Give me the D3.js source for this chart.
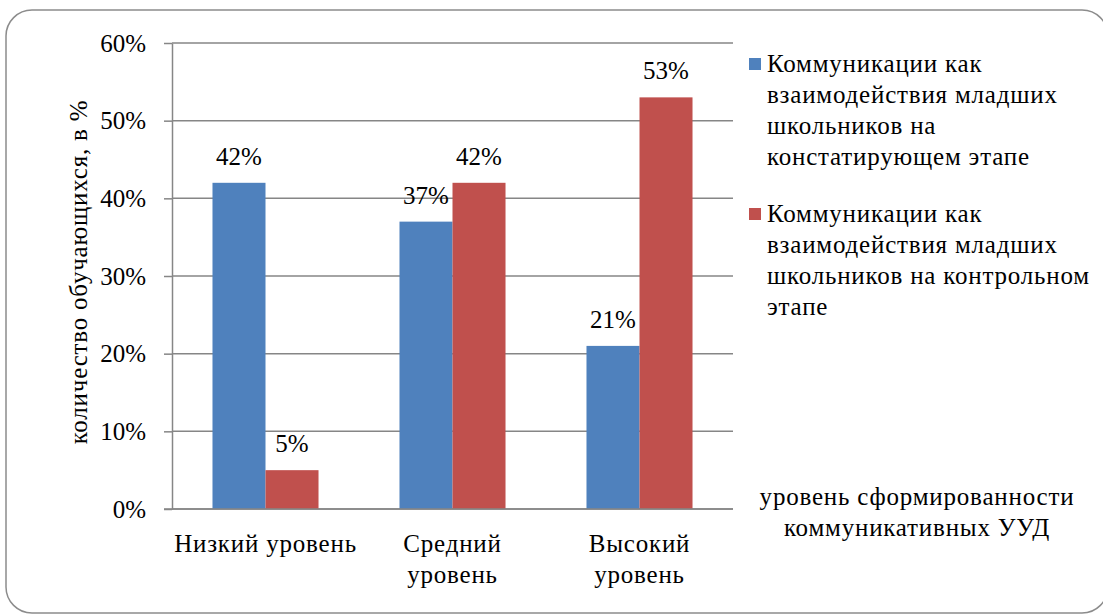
<!DOCTYPE html>
<html>
<head>
	<meta charset="UTF-8">
	<title>chart</title>
</head>
<body style="margin:0">
	<script src="https://d3js.org/d3.v7.min.js"></script>
	<script>
		var categories = ['Низкий уровень', 'Средний уровень', 'Высокий уровень'];
		var categoryLines = [['Низкий уровень'], ['Средний', 'уровень'], ['Высокий', 'уровень']];
		var seriesNames = [
			['Коммуникации как', 'взаимодействия младших', 'школьников на', 'констатирующем этапе'],
			['Коммуникации как', 'взаимодействия младших', 'школьников на контрольном', 'этапе']
		];
		var seriesA = [42, 37, 21];  // констатирующий этап
		var seriesB = [5, 42, 53];   // контрольный этап
		var yTicks = [0, 10, 20, 30, 40, 50, 60];
		var colors = ['#4F81BD', '#C0504D'];
		var yTitle = 'количество обучающихся, в %';
		var xTitle = ['уровень сформированности', 'коммуникативных УУД'];

		var width = 1103, height = 616;
		var plotLeft = 172, plotRight = 733, plotTop = 43, plotBottom = 509;
		var gridColor = '#868686';

		var svg = d3.select('body').append('svg')
			.attr('width', width).attr('height', height)
			.style('font-family', 'Liberation Serif')
			.style('font-size', '25px');

		// рамка
		svg.append('rect')
			.attr('x', 6).attr('y', 10)
			.attr('width', 1102).attr('height', 603)
			.attr('rx', 26).attr('ry', 26)
			.attr('fill', 'none').attr('stroke', '#8c8c8c').attr('stroke-width', 1.5);

		var y = d3.scaleLinear().domain([0, 60]).range([plotBottom, plotTop]);
		var x0 = d3.scaleBand().domain(categories).range([plotLeft, plotRight])
			.paddingInner(0.433).paddingOuter(0.2165);
		var x1 = d3.scaleBand().domain([0, 1]).range([0, x0.bandwidth()]);

		// сетка
		svg.append('g').selectAll('line')
			.data(yTicks)
			.enter().append('line')
			.attr('x1', plotLeft).attr('x2', plotRight)
			.attr('y1', function(d){ return y(d); })
			.attr('y2', function(d){ return y(d); })
			.attr('stroke', gridColor).attr('stroke-width', 1.5);

		var yAxis = d3.axisLeft(y).tickValues(yTicks)
			.tickFormat(function(d){ return d + '%'; })
			.tickSizeInner(8).tickSizeOuter(0).tickPadding(18);
		var gy = svg.append('g')
			.attr('transform', 'translate(' + plotLeft + ',0)')
			.call(yAxis);
		gy.attr('font-family', null).attr('font-size', null);
		gy.selectAll('path, line').attr('stroke', gridColor).attr('stroke-width', 1.5);
		gy.selectAll('text').attr('fill', '#000');

		// столбцы
		var groups = svg.append('g').selectAll('g')
			.data(categories)
			.enter().append('g')
			.attr('transform', function(d){ return 'translate(' + x0(d) + ',0)'; });

		groups.selectAll('rect')
			.data(function(d, i){ return [seriesA[i], seriesB[i]]; })
			.enter().append('rect')
			.attr('x', function(d, j){ return x1(j); })
			.attr('y', function(d){ return y(d); })
			.attr('width', x1.bandwidth())
			.attr('height', function(d){ return plotBottom - y(d); })
			.attr('fill', function(d, j){ return colors[j]; });

		groups.selectAll('text.val')
			.data(function(d, i){ return [seriesA[i], seriesB[i]]; })
			.enter().append('text')
			.attr('class', 'val')
			.attr('text-anchor', 'middle')
			.attr('x', function(d, j){ return x1(j) + x1.bandwidth() / 2; })
			.attr('y', function(d){ return y(d) - 18; })
			.text(function(d){ return d + '%'; });

		// ось X
		svg.append('line')
			.attr('x1', plotLeft - 8).attr('x2', plotRight)
			.attr('y1', plotBottom).attr('y2', plotBottom)
			.attr('stroke', gridColor).attr('stroke-width', 1.5);

		svg.append('g').selectAll('text')
			.data(categories)
			.enter().append('text')
			.attr('class', 'cyr')
			.attr('text-anchor', 'middle')
			.attr('y', 552)
			.each(function(d, i){
				var t = d3.select(this);
				categoryLines[i].forEach(function(line, k){
					t.append('tspan')
						.attr('x', x0(d) + x0.bandwidth() / 2)
						.attr('dy', k === 0 ? 0 : 31)
						.text(line);
				});
			});

		// подпись оси Y
		svg.append('text')
			.attr('class', 'cyr')
			.attr('text-anchor', 'middle')
			.attr('transform', 'translate(87,272) rotate(-90)')
			.text(yTitle);

		// подпись оси X
		svg.append('text')
			.attr('class', 'cyr')
			.attr('text-anchor', 'middle')
			.attr('y', 505)
			.selectAll('tspan')
			.data(xTitle)
			.enter().append('tspan')
			.attr('x', 917)
			.attr('dy', function(d, i){ return i === 0 ? 0 : 31; })
			.text(function(d){ return d; });

		// легенда
		var legend = svg.append('g').selectAll('g')
			.data(seriesNames)
			.enter().append('g')
			.attr('transform', function(d, i){ return 'translate(749,' + (58 + i * 150) + ')'; });

		legend.append('rect')
			.attr('width', 12).attr('height', 12)
			.attr('fill', function(d, i){ return colors[i]; });

		legend.append('text')
			.attr('class', 'cyr')
			.attr('y', 14)
			.selectAll('tspan')
			.data(function(d){ return d; })
			.enter().append('tspan')
			.attr('x', 18)
			.attr('dy', function(d, i){ return i === 0 ? 0 : 31; })
			.text(function(d){ return d; });

		// шрифт задаём прямо на каждой надписи
		svg.selectAll('text')
			.style('font-family', '"Liberation Serif"')
			.style('font-size', '25px');
		svg.selectAll('text.cyr').style('letter-spacing', '0.8px');
	</script>
</body>
</html>
